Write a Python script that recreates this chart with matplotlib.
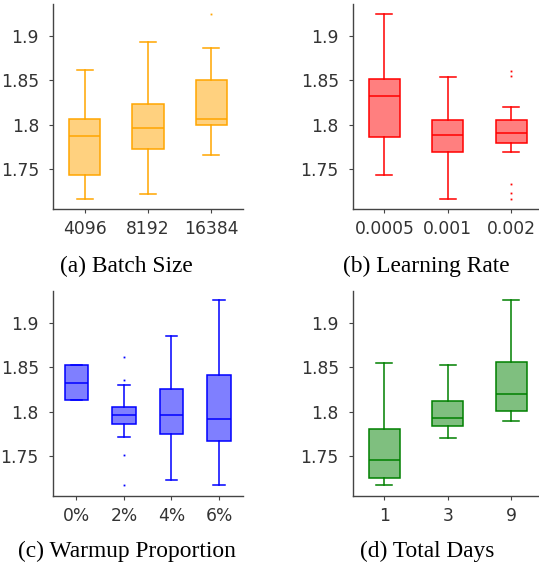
import matplotlib
matplotlib.use("Agg")
import matplotlib.pyplot as plt
from matplotlib.colors import to_rgba

# ---- data ----
batch_labels = ["4096", "8192", "16384"]
batch_whislo = [1.717, 1.722, 1.766]
batch_q1 = [1.744, 1.773, 1.800]
batch_med = [1.787, 1.796, 1.807]
batch_q3 = [1.806, 1.823, 1.850]
batch_whishi = [1.861, 1.893, 1.886]
batch_fliers = [[], [], [1.924]]

lr_labels = ["0.0005", "0.001", "0.002"]
lr_whislo = [1.744, 1.717, 1.770]
lr_q1 = [1.786, 1.769, 1.780]
lr_med = [1.832, 1.789, 1.791]
lr_q3 = [1.851, 1.805, 1.805]
lr_whishi = [1.924, 1.854, 1.820]
lr_fliers = [[], [], [1.860, 1.855, 1.734, 1.723, 1.717]]

warm_labels = ["0%", "2%", "4%", "6%"]
warm_whislo = [1.813, 1.771, 1.723, 1.717]
warm_q1 = [1.813, 1.786, 1.775, 1.767]
warm_med = [1.832, 1.796, 1.796, 1.792]
warm_q3 = [1.852, 1.805, 1.825, 1.841]
warm_whishi = [1.852, 1.830, 1.885, 1.925]
warm_fliers = [[], [1.861, 1.836, 1.751, 1.717], [], []]

days_labels = ["1", "3", "9"]
days_whislo = [1.7175, 1.770, 1.789]
days_q1 = [1.725, 1.784, 1.801]
days_med = [1.746, 1.793, 1.820]
days_q3 = [1.780, 1.812, 1.856]
days_whishi = [1.855, 1.852, 1.925]
days_fliers = [[], [], []]

yticks = [1.75, 1.8, 1.85, 1.9]
ytick_labels = ["1.75", "1.8", "1.85", "1.9"]

captions = ["(a) Batch Size", "(b) Learning Rate", "(c) Warmup Proportion", "(d) Total Days"]

W, H = 539, 567
fig = plt.figure(figsize=(W / 100, H / 100), dpi=100)


def make_stats(whislo, q1, med, q3, whishi, fliers):
    return [dict(whislo=a, q1=b, med=c, q3=d, whishi=e, fliers=f)
            for a, b, c, d, e, f in zip(whislo, q1, med, q3, whishi, fliers)]


panels = [
    (batch_labels, make_stats(batch_whislo, batch_q1, batch_med, batch_q3, batch_whishi, batch_fliers), "#FFA500"),
    (lr_labels, make_stats(lr_whislo, lr_q1, lr_med, lr_q3, lr_whishi, lr_fliers), "#FF0000"),
    (warm_labels, make_stats(warm_whislo, warm_q1, warm_med, warm_q3, warm_whishi, warm_fliers), "#0000FF"),
    (days_labels, make_stats(days_whislo, days_q1, days_med, days_q3, days_whishi, days_fliers), "#008000"),
]

# axes rectangles in pixels: left, top, right, bottom
rects = [
    (53, 4, 243, 209),
    (352.7, 4, 542.7, 209),
    (52.7, 291, 242.7, 495.7),
    (352.7, 291, 542.7, 495.7),
]
cap_pos = [(126.7, 266.7), (426.7, 266.7), (126.7, 551.7), (426.7, 551.7)]

axcol = "#444444"
for (labels, stats, col), (l, t, r, b), cap, (cx, cy) in zip(panels, rects, captions, cap_pos):
    ax = fig.add_axes([l / W, 1 - b / H, (r - l) / W, (b - t) / H])
    n = len(labels)
    pos = list(range(n))
    fill = to_rgba(col, 0.5)
    ax.bxp(stats, positions=pos, widths=0.49, patch_artist=True, showfliers=True,
           boxprops=dict(facecolor=fill, edgecolor=col, linewidth=1.1),
           medianprops=dict(color=col, linewidth=1.1),
           whiskerprops=dict(color=col, linewidth=1.1),
           capprops=dict(color=col, linewidth=1.1),
           capwidths=0.25,
           flierprops=dict(marker="s", markersize=1.3, markerfacecolor=col,
                           markeredgecolor=col, markeredgewidth=0, linestyle="none"))
    ax.set_xlim(-0.5, n - 0.5)
    ax.set_ylim(1.7055, 1.9355)
    ax.set_xticks(pos)
    ax.set_xticklabels(labels)
    ax.set_yticks(yticks)
    ax.set_yticklabels(ytick_labels)
    for s in ["top", "right"]:
        ax.spines[s].set_visible(False)
    for s in ["left", "bottom"]:
        ax.spines[s].set_color(axcol)
        ax.spines[s].set_linewidth(1.0)
    ax.tick_params(axis="both", colors=axcol, labelcolor="#333333", length=3, width=0.8,
                   labelsize=12.3)
    ax.tick_params(axis="y", pad=7)
    ax.tick_params(axis="x", pad=5)
    for lab in ax.get_xticklabels() + ax.get_yticklabels():
        lab.set_family("DejaVu Sans")
    fig.text(cx / W, 1 - cy / H, cap, ha="center", va="center",
             family="Liberation Serif", fontsize=16.8, color="black")

fig.savefig("out.png", dpi=100)
